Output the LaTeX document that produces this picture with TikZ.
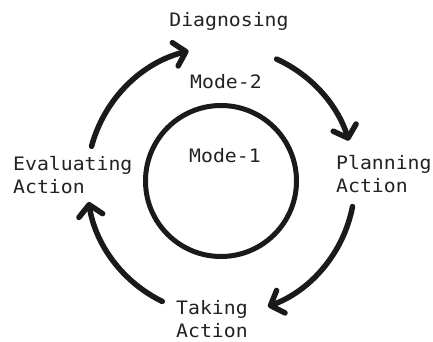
\documentclass[tikz,border=0pt]{standalone}
\usepackage{fontspec}
\usetikzlibrary{arrows.meta}
\newfontfamily\labelfont[FakeStretch=1.07]{DejaVu Sans Mono}
\definecolor{ink}{HTML}{1A1A1A}
\definecolor{txt}{HTML}{222222}
\begin{document}
\begin{tikzpicture}[x=1pt,y=1pt,
  lbl/.style={inner sep=0pt, text=txt, align=left,
    font=\labelfont\fontsize{18.5}{23}\selectfont},
  cycle/.style={draw=ink, line width=5.5pt, line cap=round,
    -{Straight Barb[length=11pt,width=24pt,round]}},
  ring/.style={draw=ink, line width=5pt}]
\useasboundingbox (-221,-161) rectangle (212,181);

% inner mode circle
\node[ring, circle, minimum size=151pt, inner sep=0pt] (inner) at (0,0) {};

% labels
\node[lbl, anchor=base] (diag) at (8,154) {Diagnosing};
\node[lbl, anchor=base] (m2) at (5,92) {Mode-2};
\node[lbl, anchor=base] (m1) at (4,18) {Mode-1};
\node[lbl, anchor=north west] (plan) at (115,26) {Planning\\Action};
\node[lbl, anchor=north west] (take) at (-45,-119) {Taking\\Action};
\node[lbl, anchor=north west] (eval) at (-208,25) {Evaluating\\Action};

% start points of the cycle arrows
\coordinate (s1) at (165:134);
\coordinate (s2) at (65.5:134);
\coordinate (s3) at (-11:134);
\coordinate (s4) at (244:134);

\draw[cycle] (s1) arc[start angle=165, end angle=104, radius=134];
\draw[cycle] (s2) arc[start angle=65.5, end angle=17.5, radius=134];
\draw[cycle] (s3) arc[start angle=-11, end angle=-69.5, radius=134];
\draw[cycle] (s4) arc[start angle=244, end angle=189, radius=134];
\end{tikzpicture}
\end{document}
